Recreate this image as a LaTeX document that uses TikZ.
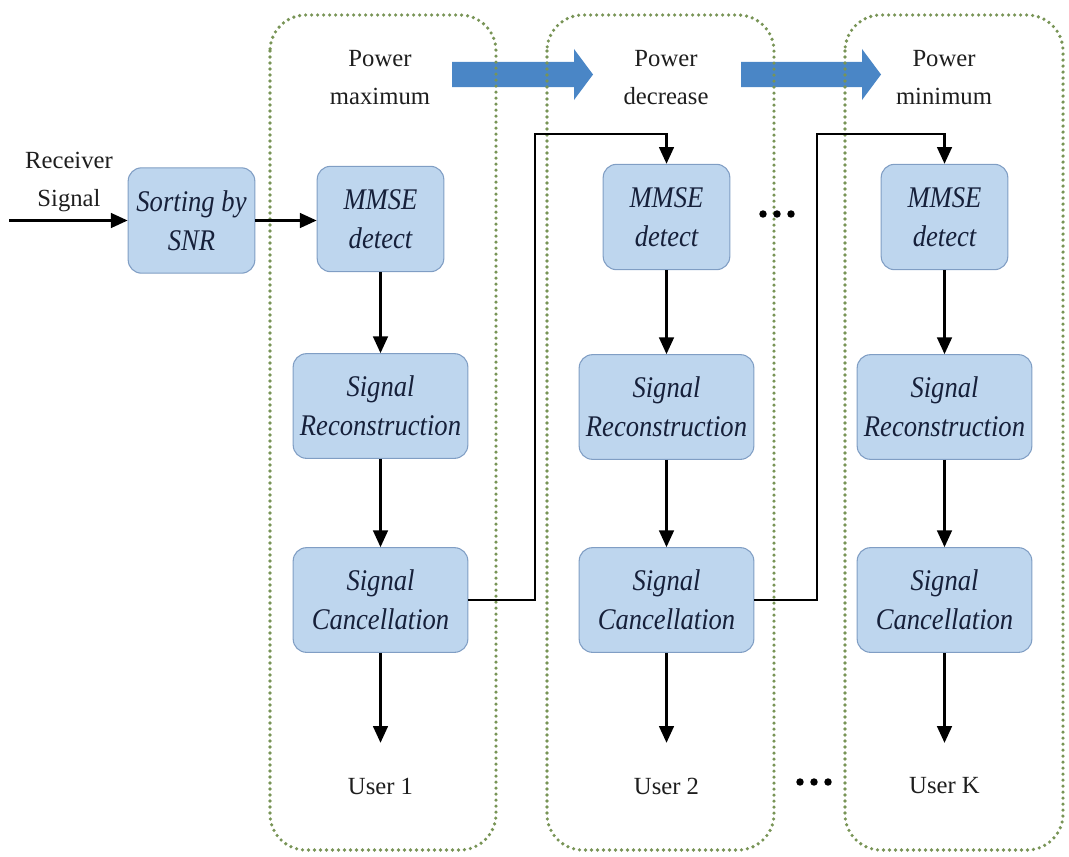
\documentclass[tikz,border=0pt]{standalone}
\usepackage{fontspec}
\setmainfont{Liberation Serif}
\newfontfamily\blockfont[FakeStretch=0.887]{Liberation Serif}
\usetikzlibrary{arrows.meta,calc}

\definecolor{blockfill}{RGB}{190,214,238}
\definecolor{blockline}{RGB}{128,158,196}
\definecolor{blocktext}{RGB}{22,32,58}
\definecolor{stagegreen}{RGB}{120,148,86}
\definecolor{powerblue}{RGB}{74,134,198}
\definecolor{labeltext}{RGB}{30,30,30}

\begin{document}
\begin{tikzpicture}[x=0.75pt,y=-0.75pt,
  block/.style={draw=blockline, line width=0.8pt, fill=blockfill,
    rounded corners=10pt, align=center, text=blocktext, inner sep=0pt,
    font=\blockfont\itshape\fontsize{22.5pt}{29.25pt}\selectfont},
  smallblock/.style={block, minimum width=95pt, minimum height=79pt},
  wideblock/.style={block, minimum width=131pt, minimum height=78.5pt},
  label/.style={align=center, text=labeltext, inner sep=0pt,
    font=\fontsize{18.5pt}{28.5pt}\selectfont},
  stage/.style={draw=stagegreen, line width=2.7pt, line cap=round,
    dash pattern=on 0pt off 4.5pt, rounded corners=27pt},
  wire/.style={draw=black, line width=1.7pt},
  flow/.style={wire, -{Triangle[length=12.5pt,width=11pt]}},
  powerarrow/.style={fill=powerblue},
  ellipsisdot/.style={fill=black}
]
\useasboundingbox (0,0) rectangle (1069,856);

% power level arrows between the stages
\fill[powerarrow] (452,62) -- (574,62) -- (574,49) -- (593,74.5)
  -- (574,100) -- (574,87) -- (452,87) -- cycle;
\fill[powerarrow] (741,62) -- (862,62) -- (862,49) -- (881,74.5)
  -- (862,100) -- (862,87) -- (741,87) -- cycle;

% dotted stage frames
\draw[stage] (270,15) rectangle (496,850);
\draw[stage] (547,15) rectangle (774,850);
\draw[stage] (845,15) rectangle (1063,850);

% stage headings
\node[label] (p1) at (380,78) {Power\\maximum};
\node[label] (p2) at (666,78) {Power\\decrease};
\node[label] (p3) at (944,78) {Power\\minimum};

% input
\node[label] (rx) at (69,182) {Receiver\\Signal};
\coordinate (in) at (9,220.5);
\node[smallblock] (sort) at (191.5,220.5) {Sorting by\\SNR};

% stage 1
\node[smallblock] (m1) at (380.5,219) {MMSE\\detect};
\node[wideblock] (r1) at (380.5,406) {Signal\\Reconstruction};
\node[wideblock] (c1) at (380.5,600) {Signal\\Cancellation};
\node[label] (u1) at (380.5,786) {User 1};

% stage 2
\node[smallblock] (m2) at (666.5,217) {MMSE\\detect};
\node[wideblock] (r2) at (666.5,407) {Signal\\Reconstruction};
\node[wideblock] (c2) at (666.5,600) {Signal\\Cancellation};
\node[label] (u2) at (666.5,786) {User 2};

% stage K
\node[smallblock] (m3) at (944.5,217) {MMSE\\detect};
\node[wideblock] (r3) at (944.5,407) {Signal\\Reconstruction};
\node[wideblock] (c3) at (944.5,600) {Signal\\Cancellation};
\node[label] (u3) at (944.5,786) {User K};

% connections
\draw[flow] (in) -- (sort.west);
\draw[flow] (sort.east) -- (m1.west |- sort.east);
\foreach \i in {1,2,3}{
  \draw[flow] (m\i.south) -- (r\i.north);
  \draw[flow] (r\i.south) -- (c\i.north);
  \draw[flow, shorten >=26pt] (c\i.south) -- (u\i.north);
}
\coordinate (j1) at (535,134);
\coordinate (j2) at (817,134);
\draw[flow] (c1.east) -| (j1) -| (m2.north);
\draw[flow] (c2.east) -| (j2) -| (m3.north);

% ellipses between stages
\foreach \x in {763,777,791} \fill[ellipsisdot] (\x,214) circle (2.8pt);
\foreach \x in {800,814,828} \fill[ellipsisdot] (\x,782) circle (2.8pt);
\end{tikzpicture}
\end{document}
